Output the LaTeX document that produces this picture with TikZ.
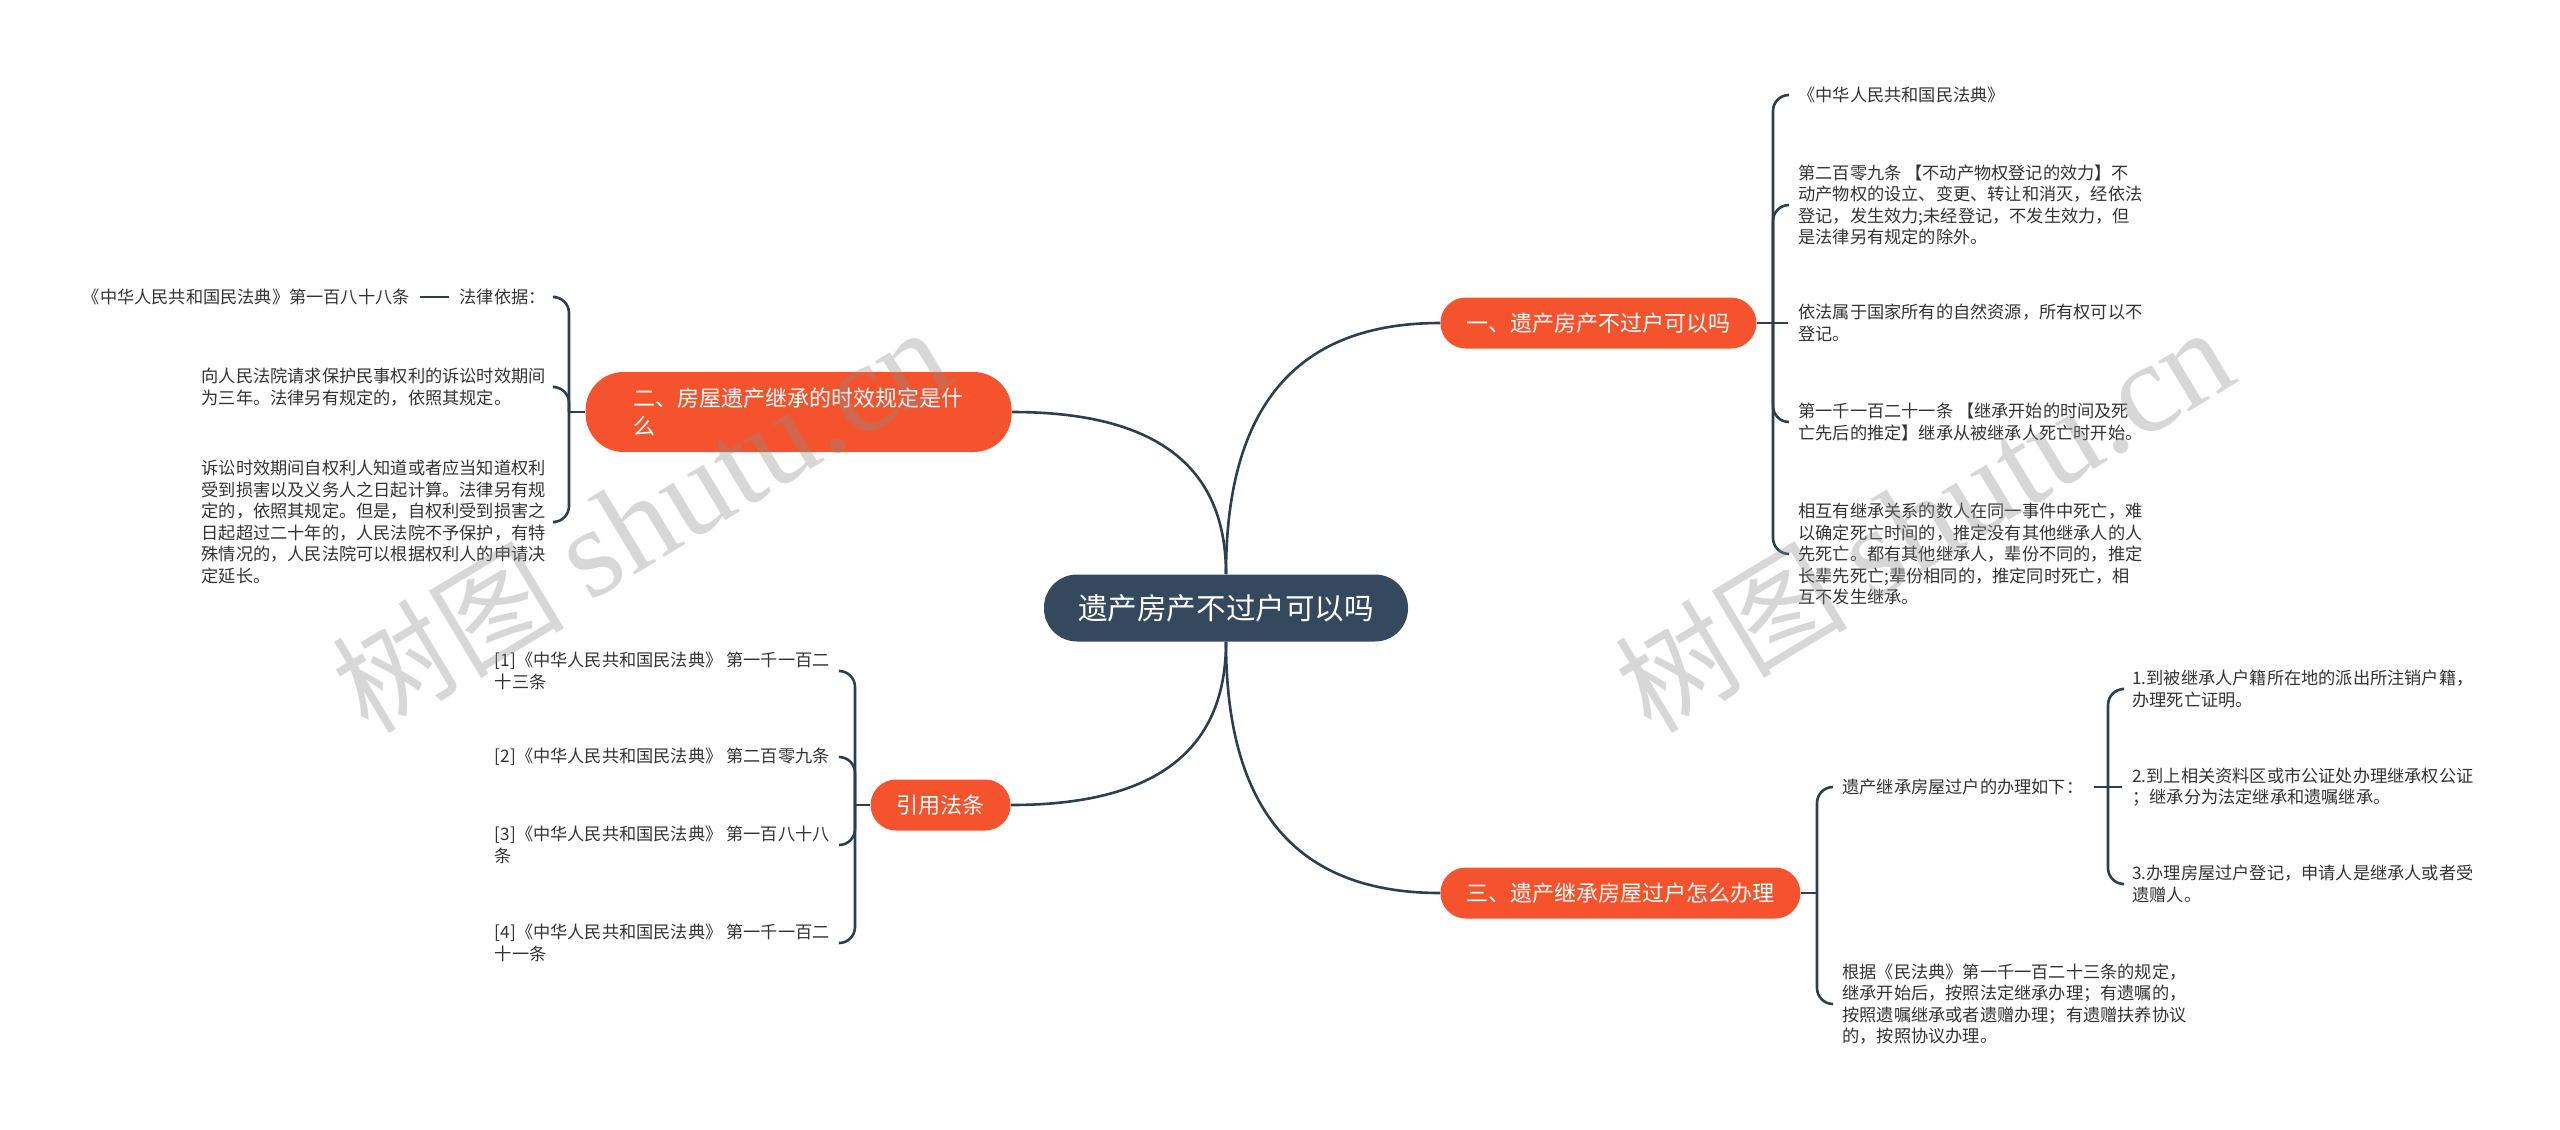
\documentclass[tikz,border=0pt]{standalone}
\usepackage{fontspec}
\setmainfont{Noto Sans CJK SC}
\newfontfamily\wmserif{Liberation Serif}
\usetikzlibrary{calc}

\definecolor{topicorange}{HTML}{F5532D}
\definecolor{rootslate}{HTML}{34495E}
\definecolor{linkblue}{HTML}{2C3E50}
\definecolor{leafgray}{HTML}{333333}

\tikzset{
  maplink/.style={draw=linkblue, line width=1.3pt},
  treelink/.style={maplink, rounded corners=8pt},
  leaftext/.style={text=leafgray, font=\fontsize{8.6}{10.75}\selectfont, align=left, inner xsep=5pt, inner ysep=0pt},
}

\begin{document}
\begin{tikzpicture}[x=0.5pt, y=-0.5pt,
    rootbox/.style={fill=rootslate, text=white, font=\fontsize{14.8}{18}\selectfont, rounded corners=16.5pt, minimum height=33.5pt, inner xsep=17pt},
    topicbox/.style={fill=topicorange, text=white, font=\fontsize{11}{14}\selectfont, rounded corners=12.7pt, minimum height=25.5pt, inner xsep=13pt},
    wmark/.style={text=black!45, text opacity=0.35, inner sep=0pt}]
    \useasboundingbox (0,0) rectangle (2560,1130);

    % centre
    \node[rootbox] (root) at (1226, 608) {遗产房产不过户可以吗};

    % main topics
    \node[topicbox, anchor=west] (t1) at (1440, 323) {一、遗产房产不过户可以吗};
    \node[topicbox, anchor=east, align=left, minimum height=40pt, rounded corners=19pt, inner xsep=24pt] (t2) at (1012, 412) {二、房屋遗产继承的时效规定是什\\么};
    \node[topicbox, anchor=east] (t3) at (1011, 805) {引用法条};
    \node[topicbox, anchor=west] (t4) at (1440, 893) {三、遗产继承房屋过户怎么办理};

    % curves from the centre
    \foreach \a/\b in {root.north/t1.west, root.north/t2.east, root.south/t3.east, root.south/t4.west}
      \draw[maplink] (\a) .. controls ($(\a)!0.67!(\a |- \b)$) and ($(\b)!0.67!(\a |- \b)$) .. (\b);

    % 一
    \node[leaftext, anchor=west] (l11) at (1788, 95) {《中华人民共和国民法典》};
    \node[leaftext, anchor=west] (l12) at (1788, 205) {第二百零九条 【不动产物权登记的效力】不\\动产物权的设立、变更、转让和消灭，经依法\\登记，发生效力;未经登记，不发生效力，但\\是法律另有规定的除外。};
    \node[leaftext, anchor=west] (l13) at (1788, 323) {依法属于国家所有的自然资源，所有权可以不\\登记。};
    \node[leaftext, anchor=west] (l14) at (1788, 422) {第一千一百二十一条 【继承开始的时间及死\\亡先后的推定】继承从被继承人死亡时开始。};
    \node[leaftext, anchor=west] (l15) at (1788, 554) {相互有继承关系的数人在同一事件中死亡，难\\以确定死亡时间的，推定没有其他继承人的人\\先死亡。都有其他继承人，辈份不同的，推定\\长辈先死亡;辈份相同的，推定同时死亡，相\\互不发生继承。};
    \coordinate (k1) at (1773, 323);
    \draw[maplink] (t1.east) -- (l13.west);
    \foreach \n in {l11, l12, l14, l15}
      \draw[treelink] (k1) -- (k1 |- \n.west) -- (\n.west);

    % 二
    \node[leaftext, anchor=east] (l21) at (556, 297) {法律依据：};
    \node[leaftext, anchor=east] (l211) at (420, 297) {《中华人民共和国民法典》第一百八十八条};
    \node[leaftext, anchor=east] (l22) at (556, 387) {向人民法院请求保护民事权利的诉讼时效期间\\为三年。法律另有规定的，依照其规定。};
    \node[leaftext, anchor=east] (l23) at (556, 522) {诉讼时效期间自权利人知道或者应当知道权利\\受到损害以及义务人之日起计算。法律另有规\\定的，依照其规定。但是，自权利受到损害之\\日起超过二十年的，人民法院不予保护，有特\\殊情况的，人民法院可以根据权利人的申请决\\定延长。};
    \coordinate (k2) at (569, 412);
    \draw[maplink] (t2.west) -- (k2);
    \draw[maplink] (l21.west) -- (l211.east);
    \foreach \n in {l21, l22, l23}
      \draw[treelink] (k2) -- (k2 |- \n.east) -- (\n.east);

    % 引用法条
    \node[leaftext, anchor=east] (l31) at (840, 671) {[1]《中华人民共和国民法典》 第一千一百二\\十三条};
    \node[leaftext, anchor=east] (l32) at (840, 757) {[2]《中华人民共和国民法典》 第二百零九条};
    \node[leaftext, anchor=east] (l33) at (840, 845) {[3]《中华人民共和国民法典》 第一百八十八\\条};
    \node[leaftext, anchor=east] (l34) at (840, 943) {[4]《中华人民共和国民法典》 第一千一百二\\十一条};
    \coordinate (k3) at (855, 805);
    \draw[maplink] (t3.west) -- (k3);
    \foreach \n in {l31, l32, l33, l34}
      \draw[treelink] (k3) -- (k3 |- \n.east) -- (\n.east);

    % 三
    \node[leaftext, anchor=west] (l41) at (1832, 787) {遗产继承房屋过户的办理如下：};
    \node[leaftext, anchor=west] (l42) at (1832, 1004) {根据《民法典》第一千一百二十三条的规定，\\继承开始后，按照法定继承办理；有遗嘱的，\\按照遗嘱继承或者遗赠办理；有遗赠扶养协议\\的，按照协议办理。};
    \coordinate (k4) at (1817, 893);
    \draw[maplink] (t4.east) -- (k4);
    \foreach \n in {l41, l42}
      \draw[treelink] (k4) -- (k4 |- \n.west) -- (\n.west);

    \node[leaftext, anchor=west] (l411) at (2122, 689) {1.到被继承人户籍所在地的派出所注销户籍，\\办理死亡证明。};
    \node[leaftext, anchor=west] (l412) at (2122, 787) {2.到上相关资料区或市公证处办理继承权公证\\；继承分为法定继承和遗嘱继承。};
    \node[leaftext, anchor=west] (l413) at (2122, 884) {3.办理房屋过户登记，申请人是继承人或者受\\遗赠人。};
    \coordinate (k41) at (2108, 787);
    \draw[maplink] (l41.east) -- (l412.west);
    \foreach \n in {l411, l413}
      \draw[treelink] (k41) -- (k41 |- \n.west) -- (\n.west);

    % watermarks
    \node[wmark, rotate=31, font=\fontsize{58}{60}\selectfont] (w1) at (641, 520) {树图 {\wmserif\fontsize{64}{66}\selectfont shutu.cn}};
    \node[wmark, rotate=31, font=\fontsize{58}{60}\selectfont] (w2) at (1924, 520) {树图 {\wmserif\fontsize{64}{66}\selectfont shutu.cn}};
\end{tikzpicture}
\end{document}
